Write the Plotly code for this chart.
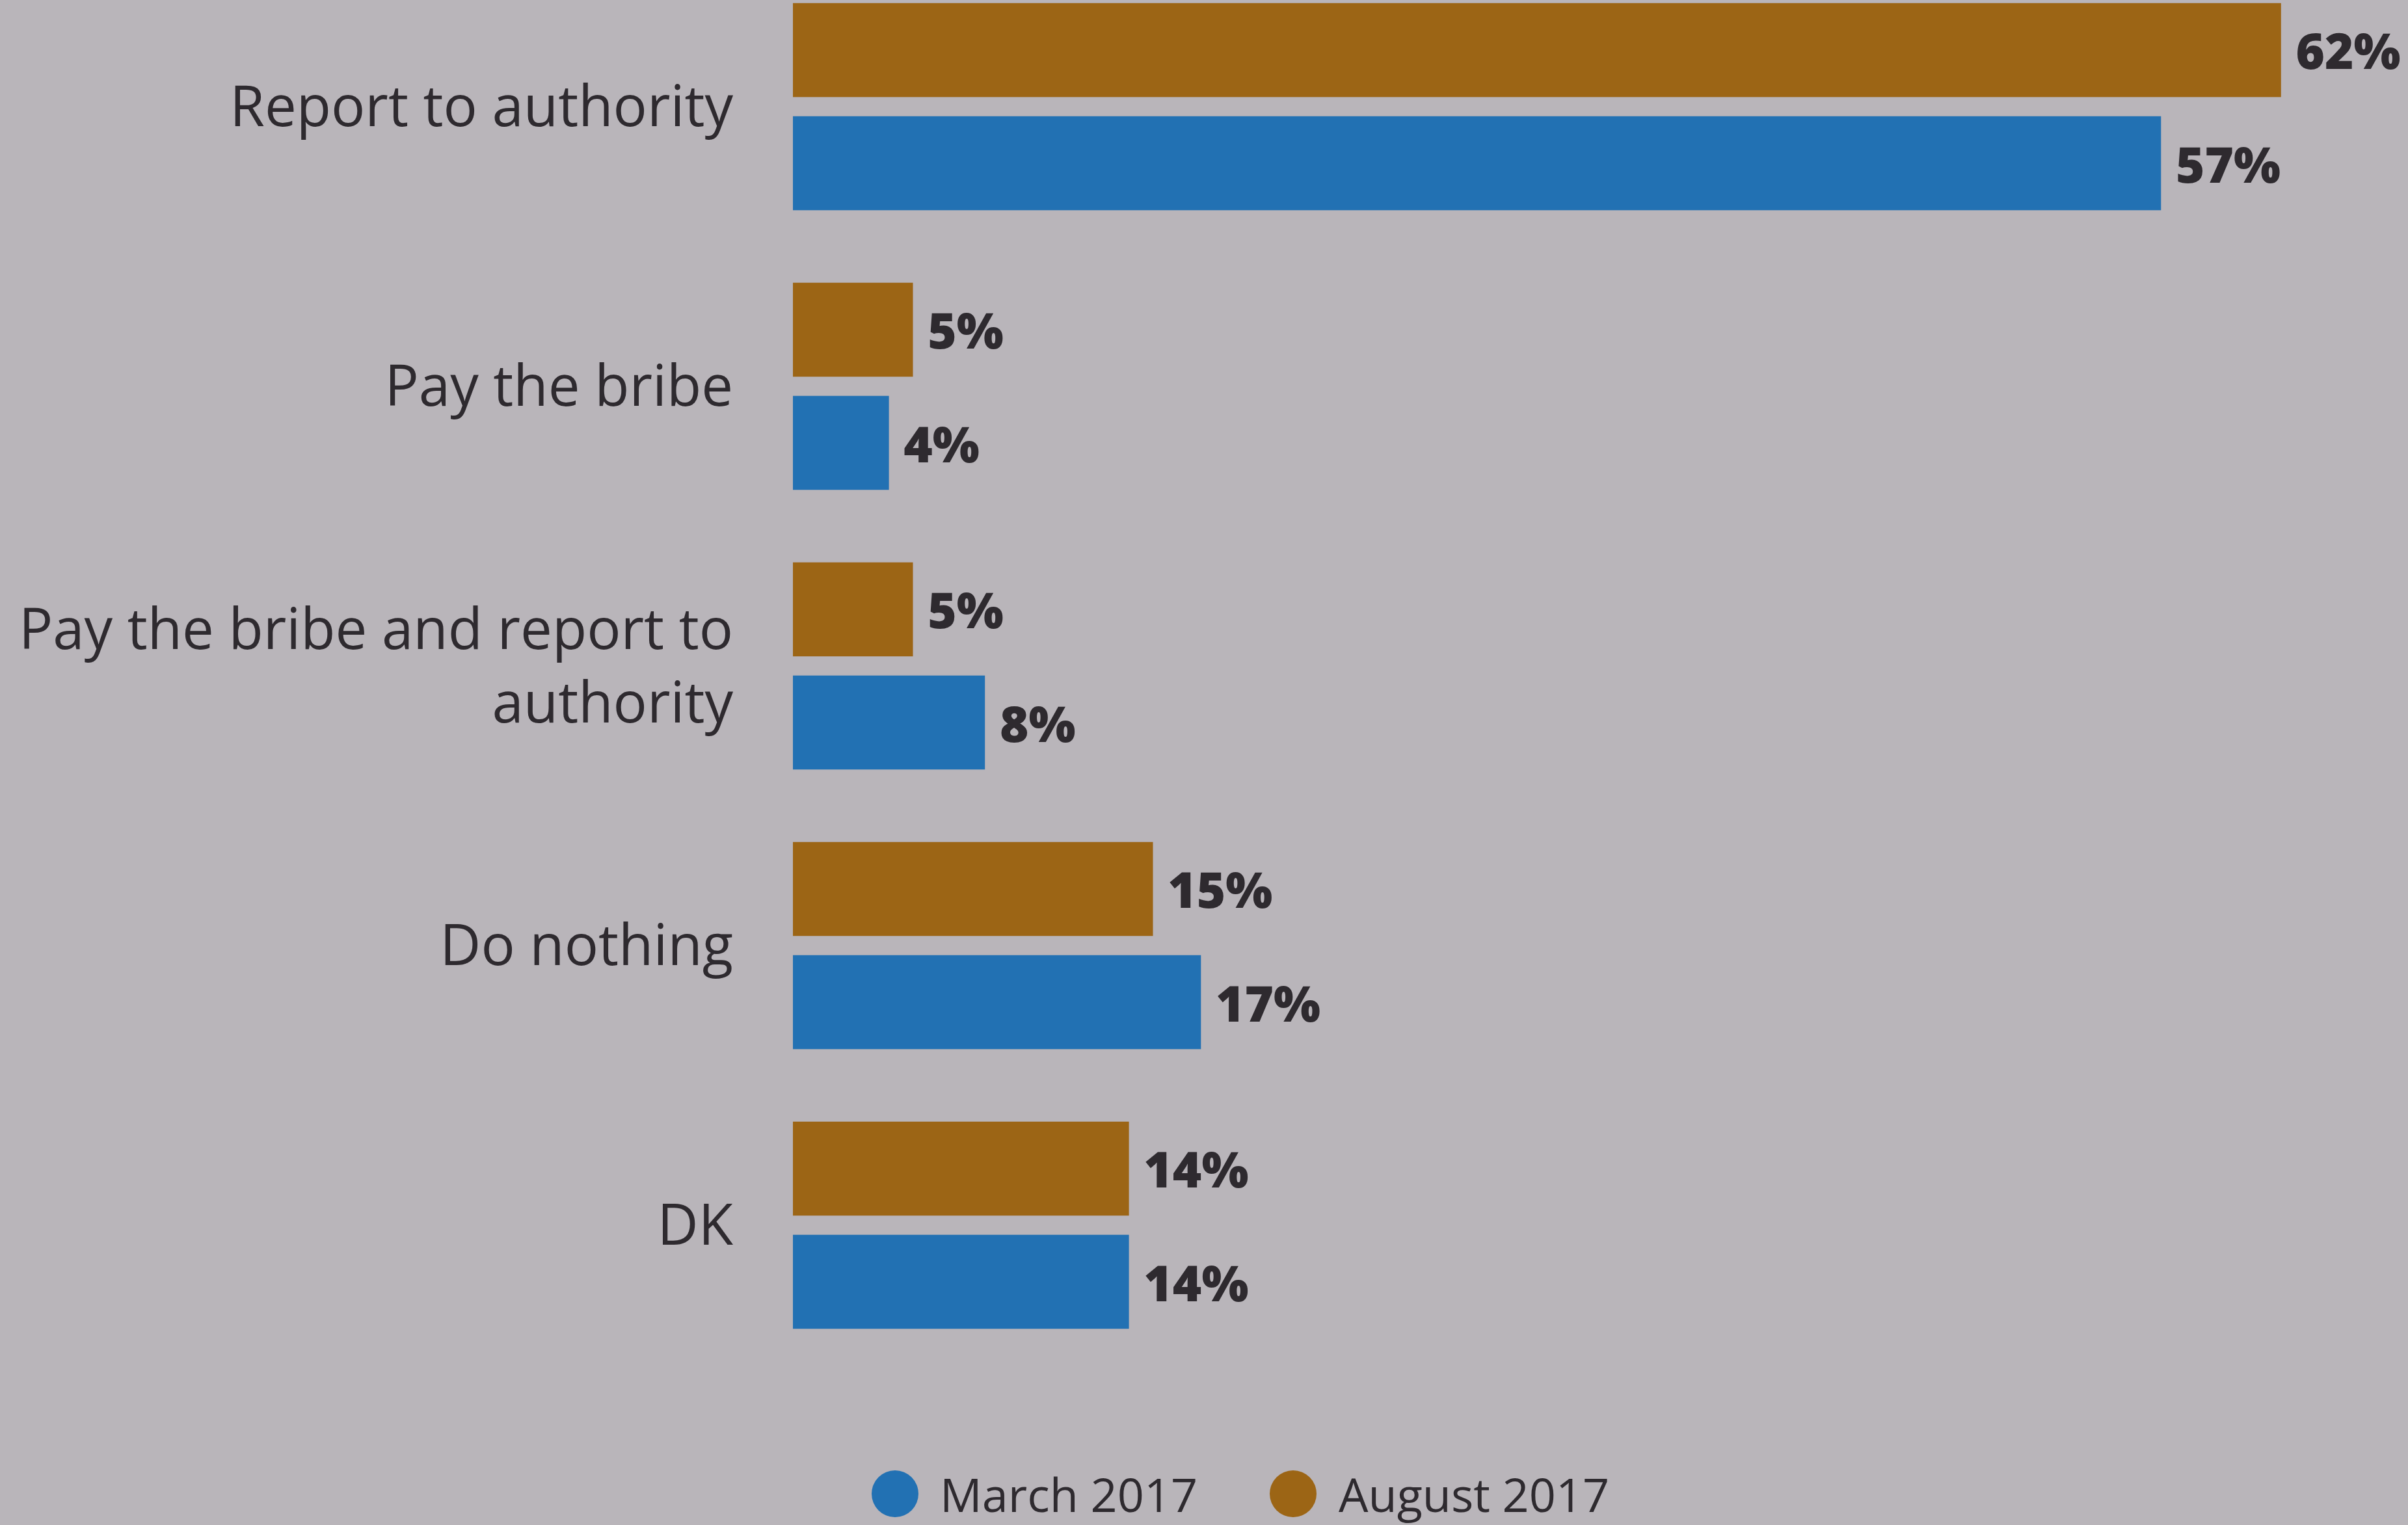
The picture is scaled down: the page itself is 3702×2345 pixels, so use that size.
import plotly.graph_objects as go

# Survey responses: what people would do if asked for a bribe
categories = [
    "Report to authority",
    "Pay the bribe",
    "Pay the bribe and report to<br>authority",
    "Do nothing",
    "DK",
]
march_2017 = [57, 4, 8, 17, 14]
august_2017 = [62, 5, 5, 15, 14]
series_names = ["March 2017", "August 2017"]

BG = "#b9b5ba"
BLUE = "#2271b3"
BROWN = "#9c6515"
INK = "#2e2a2f"
LABEL_FONT = "Open Sans"

W, H = 3702, 2345
ML, MR, MT, MB = 1219, 11, 0, 195
plot_w = W - ML - MR
plot_h = H - MT - MB

fig = go.Figure()

value_font = dict(family=LABEL_FONT, size=76, color=INK, weight=800)

# August bars first so they sit above March within each group (y axis reversed)
fig.add_trace(go.Bar(
    y=categories, x=august_2017, orientation="h", name=series_names[1],
    marker=dict(color=BROWN, line=dict(width=0)),
    texttemplate="\u00a0%{x}%", textposition="outside", cliponaxis=False,
    textfont=value_font, showlegend=False, hoverinfo="skip",
))
fig.add_trace(go.Bar(
    y=categories, x=march_2017, orientation="h", name=series_names[0],
    marker=dict(color=BLUE, line=dict(width=0)),
    texttemplate="\u00a0%{x}%", textposition="outside", cliponaxis=False,
    textfont=value_font, showlegend=False, hoverinfo="skip",
))

# Legend: round swatches with series names, centred below the bars
legend_y = -(2297 - plot_h) / plot_h
swatches = [(series_names[0], BLUE, 1376, 1443), (series_names[1], BROWN, 1988, 2056)]
shapes, annotations = [], []
for name, color, cx, tx in swatches:
    xp = (cx - ML) / plot_w
    shapes.append(dict(
        type="circle", xref="paper", yref="paper",
        xsizemode="pixel", ysizemode="pixel",
        xanchor=xp, yanchor=legend_y,
        x0=-36, x1=36, y0=-36, y1=36,
        fillcolor=color, line=dict(width=0),
    ))
    annotations.append(dict(
        text=name, xref="paper", yref="paper",
        x=(tx - ML) / plot_w, y=legend_y, xanchor="left", yanchor="middle",
        showarrow=False, font=dict(family=LABEL_FONT, size=72, color=INK),
    ))

pitch = plot_h / 5.0
top_offset = 164 / pitch

fig.update_layout(
    width=W, height=H,
    margin=dict(l=ML, r=MR, t=MT, b=MB),
    paper_bgcolor=BG, plot_bgcolor=BG,
    barmode="group", bargap=0.19, bargroupgap=0.17,
    shapes=shapes, annotations=annotations,
    showlegend=False,
    xaxis=dict(range=[0, plot_w / 36.9], visible=False, fixedrange=True),
    yaxis=dict(
        type="category", categoryorder="array", categoryarray=categories,
        range=[5 - top_offset, -top_offset],
        showgrid=False, zeroline=False, showline=False, ticks="",
        ticklabelstandoff=91,
        tickfont=dict(family=LABEL_FONT, size=87, color=INK),
    ),
)

fig.write_html("out.html")
